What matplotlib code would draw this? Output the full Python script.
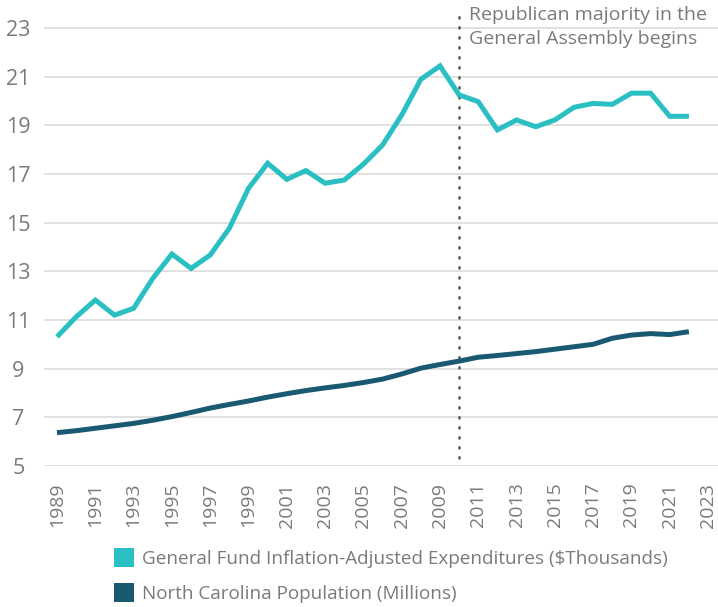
import matplotlib.pyplot as plt
import numpy as np
from matplotlib.patches import Patch

plt.rcParams['font.family'] = ['Open Sans', 'DejaVu Sans']

years = np.arange(1989, 2023)
expenditures = [10.31, 11.13, 11.82, 11.2, 11.48, 12.71, 13.71, 13.12, 13.67, 14.77,
                16.41, 17.44, 16.78, 17.14, 16.62, 16.75, 17.4, 18.19, 19.42, 20.89,
                21.44, 20.25, 19.97, 18.81, 19.22, 18.94, 19.22, 19.74, 19.9, 19.86,
                20.32, 20.32, 19.37, 19.37]
population = [6.37, 6.45, 6.55, 6.65, 6.75, 6.88, 7.03, 7.2, 7.38, 7.53,
              7.67, 7.83, 7.97, 8.1, 8.21, 8.31, 8.43, 8.57, 8.78, 9.02,
              9.17, 9.31, 9.47, 9.54, 9.62, 9.7, 9.8, 9.9, 10.0, 10.25,
              10.38, 10.44, 10.4, 10.52]
y_ticks = [5, 7, 9, 11, 13, 15, 17, 19, 21, 23]
x_ticks = list(range(1989, 2024, 2))
majority_year = 2010

teal = '#2ABFC3'
dark = '#195A72'
grey = '#7a7a7a'

fig = plt.figure(figsize=(7.18, 6.07), dpi=100)
ax = fig.add_axes([0.0613, 0.2323, 0.9387, 0.7537])

ax.plot(years, expenditures, color=teal, lw=3.6, solid_capstyle='butt', solid_joinstyle='miter', zorder=3)
ax.plot(years, population, color=dark, lw=3.6, solid_capstyle='butt', zorder=3)

# dotted marker for the start of the republican majority
ax.axvline(majority_year, ymin=0.018, ymax=1, color='#555555', lw=1.8,
           linestyle=(0, (0.5, 3.5)), dash_capstyle='round', zorder=2)
ax.text(majority_year + 0.51, 23.92, "Republican majority in the\nGeneral Assembly begins",
        color=grey, fontsize=14, va='top', ha='left', linespacing=1.45)

ax.set_xlim(1988.32, 2023.52)
ax.set_ylim(5, 23.8)
ax.set_yticks(y_ticks)
ax.set_xticks(x_ticks)
ax.tick_params(axis='y', length=0, pad=18.4, labelsize=15.5, labelcolor=grey)
ax.tick_params(axis='x', length=0, pad=12, labelsize=14, labelcolor=grey, labelrotation=90)
for lab in ax.get_yticklabels():
    lab.set_horizontalalignment('center')

ax.grid(axis='y', color='#d9d9d9', lw=1.1)
ax.set_axisbelow(True)
for s in ax.spines.values():
    s.set_visible(False)

handles = [Patch(facecolor=teal, edgecolor='none'), Patch(facecolor=dark, edgecolor='none')]
labels = ["General Fund Inflation-Adjusted Expenditures ($Thousands)",
          "North Carolina Population (Millions)"]
fig.legend(handles, labels, loc='upper left', bbox_to_anchor=(0.159, 0.097), frameon=False,
           fontsize=13.6, labelcolor=grey, handlelength=1.06, handleheight=1.16,
           handletextpad=0.4, labelspacing=0.78, borderpad=0, borderaxespad=0)

fig.savefig('out.png', dpi=100)
